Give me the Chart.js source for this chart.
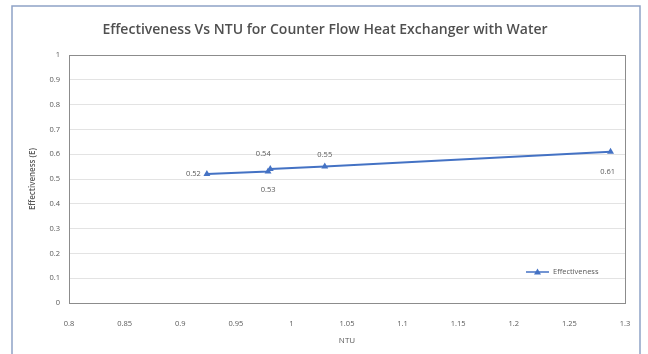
<!DOCTYPE html>
<html>
<head>
<meta charset="utf-8">
<script src="https://cdn.jsdelivr.net/npm/chart.js@4/dist/chart.umd.min.js"></script>
<style>
  html, body { margin: 0; padding: 0; background: #ffffff; }
  #wrap { width: 648px; height: 354px; position: relative; }
</style>
</head>
<body>
<div id="wrap"><canvas id="chart" width="648" height="354"></canvas></div>
<script>
// values
const ntu = [0.924, 0.979, 0.981, 1.030, 1.287];
const effectiveness = [0.52, 0.53, 0.54, 0.55, 0.61];
const xTicks = [0.8, 0.85, 0.9, 0.95, 1, 1.05, 1.1, 1.15, 1.2, 1.25, 1.3];

const blue = '#4472C4';
const grey = '#595959';
const font = '"Open Sans", "Liberation Sans", sans-serif';

// where each data label sits relative to its point (dx, dy, align)
const labelOffsets = [[-6, 0, 'right'], [0, 18, 'center'], [-7, -15, 'center'], [0, -12, 'center'], [-3, 20, 'center']];

// frame, title, data labels and the legend box inside the plot
const decor = {
    id: 'decor',
    beforeDraw(chart) {
        const ctx = chart.ctx;
        ctx.save();
        ctx.fillStyle = '#ffffff';
        ctx.fillRect(0, 0, chart.width, chart.height);
        ctx.strokeStyle = '#8ea2c6';
        ctx.lineWidth = 1.5;
        ctx.strokeRect(12, 6, 628, 360);
        ctx.restore();
    },
    afterDatasetsDraw(chart) {
        const ctx = chart.ctx;
        const area = chart.chartArea;
        ctx.save();
        // plot frame
        ctx.strokeStyle = '#8c8c8c';
        ctx.lineWidth = 1;
        ctx.strokeRect(area.left + 0.5, area.top + 0.5, area.right - area.left, area.bottom - area.top);

        // title
        ctx.fillStyle = '#505050';
        ctx.font = '600 14px ' + font;
        ctx.textAlign = 'center';
        ctx.textBaseline = 'middle';
        ctx.fillText('Effectiveness Vs NTU for Counter Flow Heat Exchanger with Water', 325, 30);

        // data labels
        ctx.font = '7.5px ' + font;
        ctx.fillStyle = grey;
        const meta = chart.getDatasetMeta(0);
        meta.data.forEach((pt, i) => {
            const o = labelOffsets[i];
            ctx.textAlign = o[2];
            ctx.fillText(effectiveness[i].toFixed(2), pt.x + o[0], pt.y + o[1]);
        });

        // legend
        const ly = 272;
        ctx.strokeStyle = blue;
        ctx.lineWidth = 1.5;
        ctx.beginPath();
        ctx.moveTo(526, ly);
        ctx.lineTo(549, ly);
        ctx.stroke();
        ctx.fillStyle = blue;
        ctx.beginPath();
        ctx.moveTo(537.5, ly - 3.5);
        ctx.lineTo(541, ly + 2.5);
        ctx.lineTo(534, ly + 2.5);
        ctx.closePath();
        ctx.fill();
        ctx.fillStyle = grey;
        ctx.textAlign = 'left';
        ctx.font = '7.5px ' + font;
        ctx.fillText('Effectiveness', 553, ly);
        ctx.restore();
    }
};

new Chart(document.getElementById('chart'), {
    type: 'scatter',
    data: {
        datasets: [{
            label: 'Effectiveness',
            data: ntu.map((x, i) => ({ x: x, y: effectiveness[i] })),
            showLine: true,
            borderColor: blue,
            backgroundColor: blue,
            borderWidth: 2,
            pointStyle: 'triangle',
            pointRadius: 4,
            pointBorderWidth: 0,
            tension: 0
        }]
    },
    options: {
        responsive: false,
        animation: false,
        devicePixelRatio: 1,
        layout: { padding: { left: 12, top: 55, right: 23, bottom: 0 } },
        plugins: {
            legend: { display: false },
            title: { display: false },
            tooltip: { enabled: false }
        },
        scales: {
            x: {
                type: 'linear',
                min: 0.8,
                max: 1.3,
                afterBuildTicks(axis) { axis.ticks = xTicks.map(v => ({ value: v })); },
                afterFit(axis) { axis.height = 51; },
                grid: { display: false, drawTicks: false },
                border: { display: false },
                ticks: {
                    color: grey,
                    font: { family: font, size: 7.5 },
                    padding: 16,
                    maxRotation: 0,
                    callback: v => String(v)
                },
                title: {
                    display: true,
                    text: 'NTU',
                    color: grey,
                    font: { family: font, size: 8 },
                    padding: { top: 4, bottom: 8 }
                }
            },
            y: {
                min: 0,
                max: 1,
                afterFit(axis) { axis.width = 57; },
                grid: { color: '#e3e3e3', drawTicks: false },
                border: { display: false },
                ticks: {
                    stepSize: 0.1,
                    color: grey,
                    font: { family: font, size: 7.5 },
                    padding: 9,
                    callback: v => String(Math.round(v * 10) / 10)
                },
                title: {
                    display: true,
                    text: 'Effectiveness (E)',
                    color: grey,
                    font: { family: font, size: 8, weight: '600' },
                    padding: { top: 16, bottom: 4 }
                }
            }
        }
    },
    plugins: [decor]
});
</script>
</body>
</html>
